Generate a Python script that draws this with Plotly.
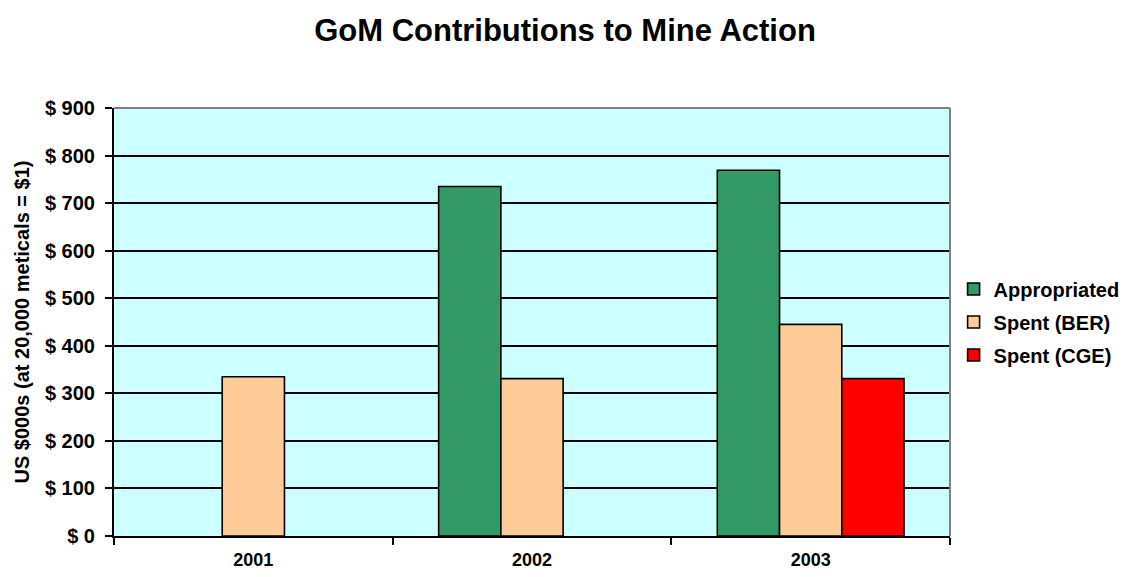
import plotly.graph_objects as go

years = ["2001", "2002", "2003"]
appropriated = [None, 735, 769]
spent_ber = [335, 331, 445]
spent_cge = [None, None, 331]

series_names = ["Appropriated", "Spent (BER)", "Spent (CGE)"]
series_colors = ["#339966", "#FFCC99", "#FF0000"]
series_values = [appropriated, spent_ber, spent_cge]

FONT = "Liberation Sans, Arial, sans-serif"

fig = go.Figure()
for i, (name, color, vals) in enumerate(zip(series_names, series_colors, series_values)):
    fig.add_trace(go.Bar(
        x=years, y=vals, name=f"<b>{name}</b>",
        marker=dict(color=color, line=dict(color="black", width=1.6)),
        legendgroup=f"g{i}",
    ))

fig.update_layout(
    width=1131, height=577,
    margin=dict(l=106, r=189, t=100, b=49, autoexpand=False),
    paper_bgcolor="white",
    plot_bgcolor="#CCFFFF",
    barmode="group",
    bargap=0.33,
    bargroupgap=0,
    title=dict(text="<b>GoM Contributions to Mine Action</b>",
               x=(565 - 8) / 1131, xref="container", xanchor="center",
               y=1 - 22 / 577, yref="container", yanchor="middle",
               font=dict(family=FONT, size=31, color="black")),
    font=dict(family=FONT, color="black"),
    legend=dict(x=(953.6 - 8) / 1131, xref="container", xanchor="left",
                y=1 - (322 - 8) / 577, yref="container", yanchor="middle",
                font=dict(family=FONT, size=20, color="black"),
                tracegroupgap=4, itemwidth=30,
                bgcolor="rgba(0,0,0,0)"),
    xaxis=dict(
        type="category",
        automargin=False,
        tickson="boundaries",
        ticks="outside", ticklen=7, tickwidth=2, tickcolor="black",
        showline=True, linecolor="black", linewidth=2,
        tickfont=dict(family=FONT, size=18, color="black"),
        tickvals=years, ticktext=[f"<b>{y}</b>" for y in years],
        showgrid=False,
        ticklabelstandoff=6,
    ),
    yaxis=dict(
        range=[0, 900], dtick=100, tick0=0,
        automargin=False,
        tickprefix="<b>$ ", ticksuffix="</b>",
        ticks="outside", ticklen=7, tickwidth=2, tickcolor="black",
        showline=True, linecolor="black", linewidth=2,
        showgrid=True, gridcolor="black", gridwidth=2,
        zeroline=False,
        tickfont=dict(family=FONT, size=20, color="black"),
        ticklabelstandoff=6,
        title=dict(text="<b>US $000s (at 20,000 meticals = $1)</b>",
                   font=dict(family=FONT, size=20, color="black"),
                   standoff=10),
    ),
    shapes=[
        dict(type="line", xref="paper", yref="paper", x0=0, x1=1, y0=1, y1=1,
             line=dict(color="#808080", width=2)),
        dict(type="line", xref="paper", yref="paper", x0=1, x1=1, y0=0, y1=1,
             line=dict(color="#808080", width=2)),
    ],
)

fig.write_html("out.html")
